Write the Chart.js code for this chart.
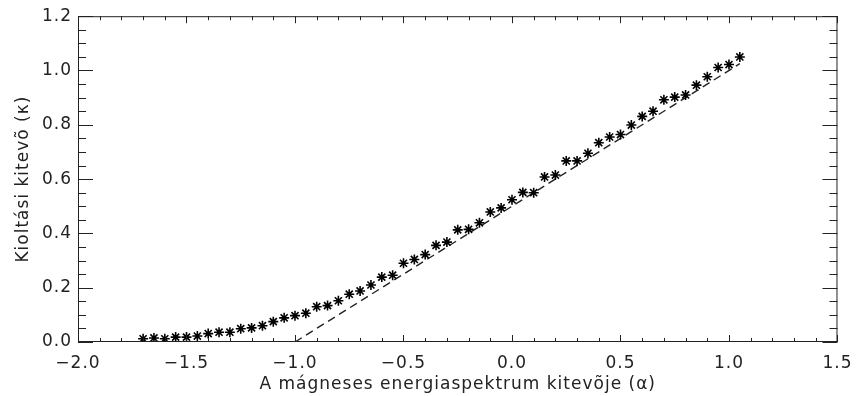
<!DOCTYPE html>
<html>
<head>
<meta charset="utf-8">
<script src="https://cdn.jsdelivr.net/npm/chart.js@4"></script>
<style>
  html, body { margin: 0; padding: 0; background: #fff; }
  #wrap { width: 862px; height: 396px; }
</style>
</head>
<body>
<div id="wrap"><canvas id="chart" width="862" height="396"></canvas></div>
<script>
// Data
const alphaValues = [
  -1.70, -1.65, -1.60, -1.55, -1.50, -1.45, -1.40, -1.35, -1.30, -1.25,
  -1.20, -1.15, -1.10, -1.05, -1.00, -0.95, -0.90, -0.85, -0.80, -0.75,
  -0.70, -0.65, -0.60, -0.55, -0.50, -0.45, -0.40, -0.35, -0.30, -0.25,
  -0.20, -0.15, -0.10, -0.05, 0.00, 0.05, 0.10, 0.15, 0.20, 0.25,
  0.30, 0.35, 0.40, 0.45, 0.50, 0.55, 0.60, 0.65, 0.70, 0.75,
  0.80, 0.85, 0.90, 0.95, 1.00, 1.05
];
const kappaValues = [
  0.012, 0.015, 0.012, 0.018, 0.018, 0.022, 0.031, 0.036, 0.036, 0.049,
  0.052, 0.060, 0.075, 0.089, 0.097, 0.106, 0.130, 0.134, 0.152, 0.176,
  0.188, 0.210, 0.239, 0.246, 0.290, 0.304, 0.322, 0.356, 0.368, 0.413,
  0.415, 0.439, 0.479, 0.494, 0.524, 0.551, 0.550, 0.608, 0.615, 0.667,
  0.667, 0.695, 0.734, 0.755, 0.764, 0.799, 0.831, 0.850, 0.892, 0.902,
  0.910, 0.946, 0.977, 1.011, 1.022, 1.050
];
const fitAlpha = [-1.00, 1.05];
const fitKappa = [0.000, 1.025];

const xTickLabels = ['\u22122.0', '\u22121.5', '\u22121.0', '\u22120.5', '0.0', '0.5', '1.0', '1.5'];
const yTickLabels = ['0.0', '0.2', '0.4', '0.6', '0.8', '1.0', '1.2'];

const xTitle = 'A mágneses energiaspektrum kitevõje (\u03b1)';
const yTitle = 'Kioltási kitevõ (\u03ba)';

const ink = '#222';

// IDL-like frame with inward ticks on all four sides
const frameTicks = {
  id: 'frameTicks',
  beforeDraw(chart) {
    chart.ctx.letterSpacing = '1px';
  },
  afterDatasetsDraw(chart) {
    const { ctx, chartArea: a, scales: { x, y } } = chart;
    ctx.save();
    ctx.strokeStyle = ink;
    ctx.lineWidth = 1;
    ctx.strokeRect(a.left + 0.5, a.top + 0.5, a.right - a.left - 1, a.bottom - a.top - 1);
    ctx.beginPath();
    for (let i = 0; i <= 35; i++) {
      const px = Math.round(x.getPixelForValue(-2 + i * 0.1)) + 0.5;
      const len = i % 5 === 0 ? 7 : 4;
      ctx.moveTo(px, a.bottom); ctx.lineTo(px, a.bottom - len);
      ctx.moveTo(px, a.top); ctx.lineTo(px, a.top + len);
    }
    for (let j = 0; j <= 24; j++) {
      const py = Math.round(y.getPixelForValue(j * 0.05)) + 0.5;
      const len = j % 4 === 0 ? 15 : 8;
      ctx.moveTo(a.left, py); ctx.lineTo(a.left + len, py);
      ctx.moveTo(a.right, py); ctx.lineTo(a.right - len, py);
    }
    ctx.stroke();
    ctx.restore();
  }
};

Chart.defaults.font.family = '"DejaVu Sans", sans-serif';
Chart.defaults.font.size = 17;
Chart.defaults.color = ink;

new Chart(document.getElementById('chart'), {
  type: 'scatter',
  data: {
    datasets: [{
      label: 'kappa',
      data: alphaValues.map((a, i) => ({ x: a, y: kappaValues[i] })),
      showLine: false,
      pointStyle: 'star',
      pointRadius: 5,
      pointBorderWidth: 1.6,
      pointBorderColor: '#000',
      pointBackgroundColor: '#000'
    }, {
      label: 'fit',
      data: fitAlpha.map((a, i) => ({ x: a, y: fitKappa[i] })),
      showLine: true,
      borderColor: '#222',
      borderWidth: 1.4,
      borderDash: [8, 5],
      pointRadius: 0
    }]
  },
  options: {
    responsive: false,
    animation: false,
    layout: { padding: { left: 0, right: 16, top: 12, bottom: 0 } },
    plugins: {
      legend: { display: false },
      tooltip: { enabled: false }
    },
    scales: {
      x: {
        type: 'linear',
        min: -2,
        max: 1.5,
        grid: { display: false, drawTicks: false },
        border: { display: false },
        ticks: {
          stepSize: 0.5,
          padding: 11,
          maxRotation: 0,
          autoSkip: false,
          callback: (v, i) => xTickLabels[i]
        },
        title: { display: true, text: xTitle, padding: { top: 0, bottom: 1 } },
        afterFit: (s) => { s.height = 54; }
      },
      y: {
        type: 'linear',
        min: 0,
        max: 1.2,
        grid: { display: false, drawTicks: false },
        border: { display: false },
        ticks: {
          stepSize: 0.2,
          padding: 6,
          autoSkip: false,
          callback: (v, i) => yTickLabels[i]
        },
        title: { display: true, text: yTitle, padding: { top: 13, bottom: 0 } },
        afterFit: (s) => { s.width = 78; }
      }
    }
  },
  plugins: [frameTicks]
});
</script>
</body>
</html>
